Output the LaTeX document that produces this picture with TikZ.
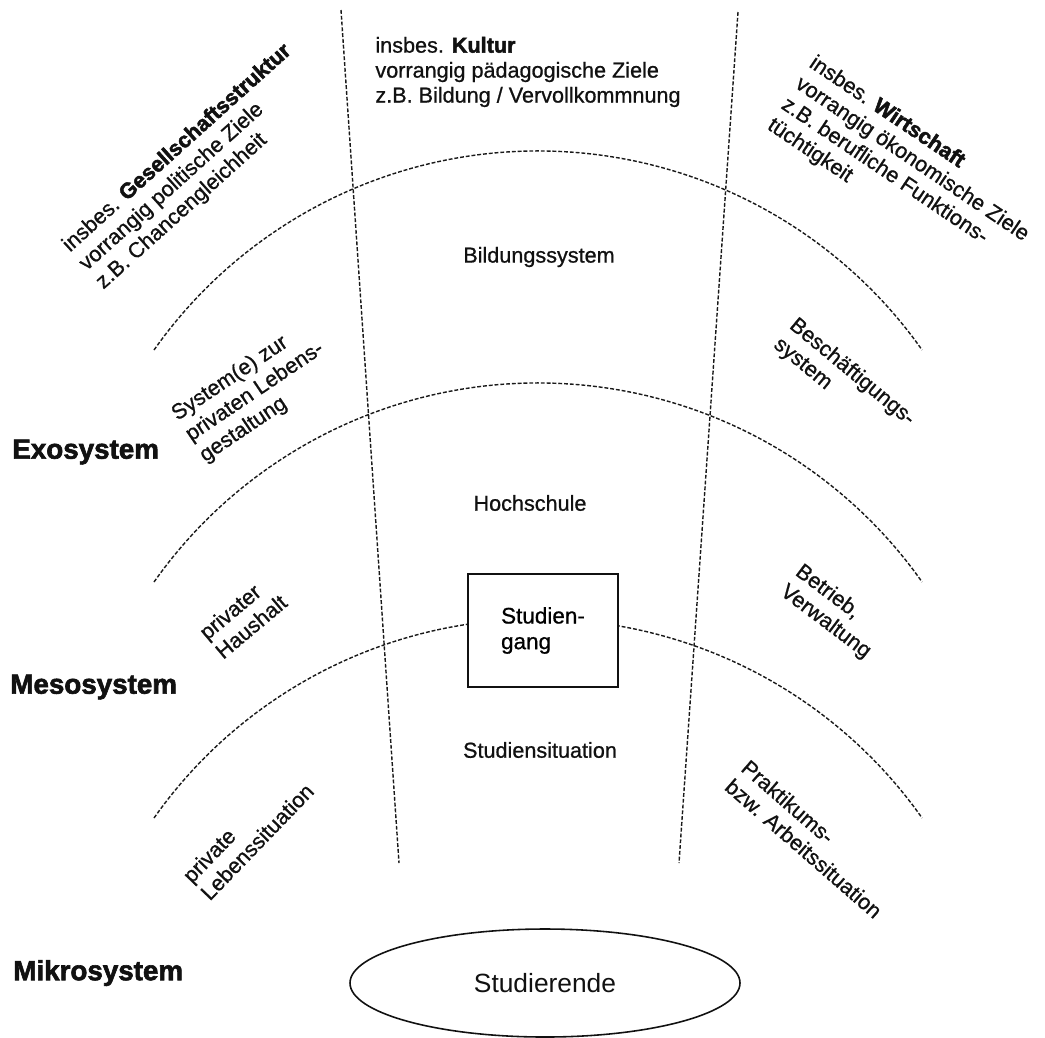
\documentclass[tikz,border=0pt]{standalone}
\usepackage{fontspec}
\setmainfont{Liberation Sans}[FakeBold=0.8, BoldFeatures={FakeBold=2.2}]
\setsansfont{Liberation Sans}[FakeBold=0.8, BoldFeatures={FakeBold=2.2}]
\newfontfamily\ellfont{Liberation Sans}
\usepackage{tikz}
\usetikzlibrary{shapes.geometric}
\definecolor{zoneline}{HTML}{1A1A1A}
\definecolor{textpri}{HTML}{111111}
\tikzset{
  zone/.style={draw=zoneline, line width=0.8pt, dash pattern=on 2.2pt off 1.1pt},
  lvlname/.style={anchor=west, font=\fontsize{15.8}{18}\selectfont\bfseries, text=textpri, inner sep=0pt},
  lbl/.style={font=\fontsize{12.3}{14.2}\selectfont, text=textpri, align=left, inner sep=0pt},
  unitbox/.style={draw=textpri, fill=white, line width=0.8pt, minimum width=3cm,
                  minimum height=2.26cm, font=\fontsize{12.8}{14.6}\selectfont, align=left},
  persell/.style={ellipse, draw=textpri, line width=0.9pt, minimum width=7.8cm,
                  minimum height=2.16cm, font=\ellfont\fontsize{15}{18}\selectfont, text=textpri},
}

\begin{document}
\begin{tikzpicture}
      % --- canvas ---
      \fill[white] (0,0) rectangle (20.9,-20.74);
      \useasboundingbox (0,0) rectangle (20.9,-20.74);

      % --- sector dividers ---
      \draw[zone] (6.82,-0.20)  -- (7.98,-17.26);
      \draw[zone] (14.76,-0.24) -- (13.58,-17.26);

      % --- system arcs ---
      \foreach \y in {-7.00,-11.64,-16.36}
        \draw[zone] (3.08,\y) arc[start angle=144.8, end angle=35.2, radius=9.4];

      % --- level names ---
      \node[lvlname] (exo)  at (0.24,-9.04)  {Exosystem};
      \node[lvlname] (meso) at (0.20,-13.74) {Mesosystem};
      \node[lvlname] (mikro) at (0.26,-19.46) {Mikrosystem};

      % --- top sectors ---
      \node[lbl, rotate=42]  (gesell) at (3.88,-3.34)
        {insbes. \textbf{Gesellschaftsstruktur}\\vorrangig politische Ziele\\z.B. Chancengleichheit};
      \node[lbl]             (kultur) at (10.56,-1.44)
        {insbes. \textbf{Kultur}\\vorrangig pädagogische Ziele\\z.B. Bildung / Vervollkommnung};
      \node[lbl, rotate=-34] (wirt)   at (18.10,-3.40)
        {insbes. \textbf{Wirtschaft}\\vorrangig ökonomische Ziele\\z.B. berufliche Funktions-\\tüchtigkeit};

      % --- exosystem ring ---
      \node[lbl, rotate=34]    (privsys) at (5.10,-7.84)  {System(e) zur\\privaten Lebens-\\gestaltung};
      \node[lbl]               (bildung) at (10.78,-5.14) {Bildungssystem};
      \node[lbl, rotate=-39.5] (besch)   at (16.88,-7.64) {Beschäftigungs-\\system};

      % --- mesosystem ring ---
      \node[lbl, rotate=40]  (haushalt) at (4.86,-12.34)  {privater\\Haushalt};
      \node[lbl]             (hochsch)  at (10.60,-10.06) {Hochschule};
      \node[lbl, rotate=-37] (betrieb)  at (16.66,-12.24) {Betrieb,\\Verwaltung};
      \node[unitbox]         (studgang) at (10.86,-12.61) {Studien-\\gang};

      % --- mikrosystem ring ---
      \node[lbl, rotate=46]  (lebsit)  at (4.96,-16.66)  {private\\Lebenssituation};
      \node[lbl]             (studsit) at (10.80,-15.00) {Studiensituation};
      \node[lbl, rotate=-41] (praksit) at (16.24,-16.78) {Praktikums-\\bzw. Arbeitssituation};

      % --- students ---
      \node[persell] (studi) at (10.90,-19.66) {Studierende};
\end{tikzpicture}
\end{document}
